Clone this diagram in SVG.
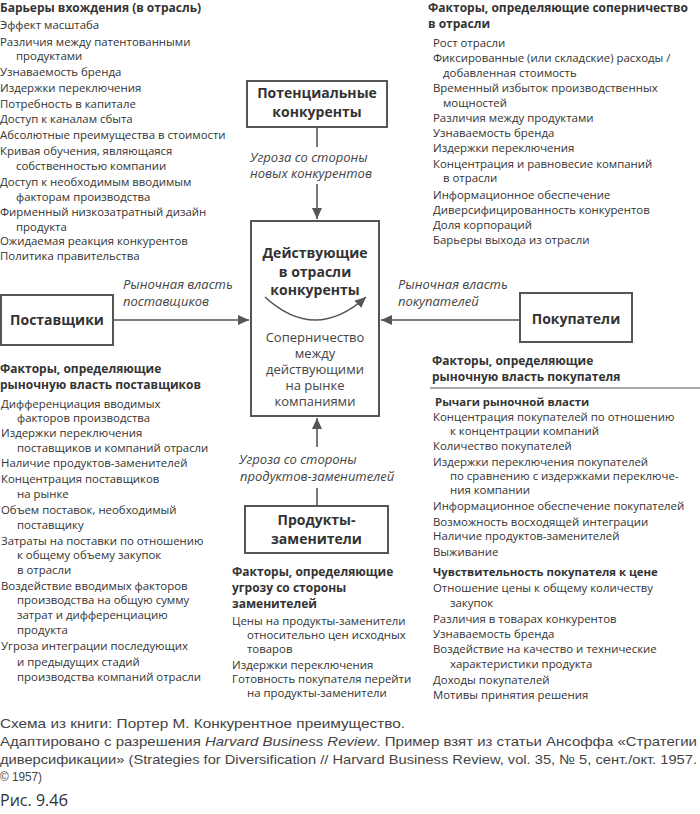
<svg xmlns="http://www.w3.org/2000/svg" width="700" height="814" viewBox="0 0 700 814">
<style>
text{font-family:"Open Sans","Noto Sans",sans-serif;fill:#333}
.b{font-size:11.4px}
.h{font-size:12px;font-weight:bold}
.s{font-size:11.4px;font-weight:bold}
.n{font-size:14px;font-weight:bold;text-anchor:middle}
.c{font-size:13px;text-anchor:middle;fill:#444}
.i{font-size:13px;font-style:italic;fill:#444}
.box{fill:#fff;stroke:#555;stroke-width:2}
.ln{stroke:#555;stroke-width:1.6;fill:none}
.f{font-family:"Liberation Sans Narrow","Liberation Sans",sans-serif;font-size:13.5px;fill:#444}
</style>
<defs>
<marker id="ah" markerUnits="userSpaceOnUse" markerWidth="12" markerHeight="10" refX="11" refY="5" orient="auto">
<path d="M0,0 L11,5 L0,10 z" fill="#555"/>
</marker>
</defs>
<rect width="700" height="814" fill="#fff"/>

<g id="connectors">
<line class="ln" x1="317" y1="127" x2="317" y2="147"/>
<line class="ln" x1="317" y1="184" x2="317" y2="219" marker-end="url(#ah)"/>
<line class="ln" x1="113" y1="320" x2="249" y2="320" marker-end="url(#ah)"/>
<line class="ln" x1="520" y1="320" x2="381" y2="320" marker-end="url(#ah)"/>
<line class="ln" x1="317" y1="506" x2="317" y2="488"/>
<line class="ln" x1="317" y1="447" x2="317" y2="418" marker-end="url(#ah)"/>
<text class="i" x="250" y="162">Угроза со стороны</text>
<text class="i" x="250" y="178">новых конкурентов</text>
<text class="i" x="123" y="289">Рыночная власть</text>
<text class="i" x="123" y="306">поставщиков</text>
<text class="i" x="398" y="289">Рыночная власть</text>
<text class="i" x="398" y="306">покупателей</text>
<text class="i" x="239" y="464">Угроза со стороны</text>
<text class="i" x="240" y="481">продуктов-заменителей</text>
</g>

<g id="potential">
<rect class="box" x="247" y="81" width="140" height="46"/>
<text class="n" x="317" y="98">Потенциальные</text>
<text class="n" x="317" y="117">конкуренты</text>
</g>

<g id="rivals">
<rect class="box" x="251" y="221" width="128" height="195"/>
<text class="n" x="315" y="258">Действующие</text>
<text class="n" x="315" y="277">в отрасли</text>
<text class="n" x="315" y="295">конкуренты</text>
<path class="ln" d="M265,297 Q315,343 366,297" marker-end="url(#ah)"/>
<text class="c" x="315" y="342">Соперничество</text>
<text class="c" x="315" y="358">между</text>
<text class="c" x="315" y="374">действующими</text>
<text class="c" x="315" y="390">на рынке</text>
<text class="c" x="315" y="406">компаниями</text>
</g>

<g id="suppliers">
<rect class="box" x="1" y="295" width="112" height="50"/>
<text class="n" x="57" y="325">Поставщики</text>
</g>

<g id="buyers">
<rect class="box" x="520" y="293" width="112" height="49"/>
<text class="n" x="576" y="324">Покупатели</text>
</g>

<g id="substitutes">
<rect class="box" x="245" y="506" width="143" height="47"/>
<text class="n" x="316.5" y="525">Продукты-</text>
<text class="n" x="316.5" y="544">заменители</text>
</g>

<g id="entry-barriers">
<text class="h" x="0" y="12">Барьеры вхождения (в отрасль)</text>
<text class="b" x="0" y="29">Эффект масштаба</text>
<text class="b" x="0" y="46">Различия между патентованными</text>
<text class="b" x="16" y="60">продуктами</text>
<text class="b" x="0" y="76">Узнаваемость бренда</text>
<text class="b" x="0" y="92">Издержки переключения</text>
<text class="b" x="0" y="108">Потребность в капитале</text>
<text class="b" x="0" y="123">Доступ к каналам сбыта</text>
<text class="b" x="0" y="139">Абсолютные преимущества в стоимости</text>
<text class="b" x="0" y="155">Кривая обучения, являющаяся</text>
<text class="b" x="16" y="170">собственностью компании</text>
<text class="b" x="0" y="186">Доступ к необходимым вводимым</text>
<text class="b" x="16" y="201">факторам производства</text>
<text class="b" x="0" y="216">Фирменный низкозатратный дизайн</text>
<text class="b" x="16" y="231">продукта</text>
<text class="b" x="0" y="245">Ожидаемая реакция конкурентов</text>
<text class="b" x="0" y="260">Политика правительства</text>
</g>

<g id="rivalry-factors">
<text class="h" x="428" y="12">Факторы, определяющие соперничество</text>
<text class="h" x="428" y="28">в отрасли</text>
<text class="b" x="433" y="47">Рост отрасли</text>
<text class="b" x="433" y="62">Фиксированные (или складские) расходы /</text>
<text class="b" x="443" y="77">добавленная стоимость</text>
<text class="b" x="433" y="92">Временный избыток производственных</text>
<text class="b" x="443" y="107">мощностей</text>
<text class="b" x="433" y="122">Различия между продуктами</text>
<text class="b" x="433" y="137">Узнаваемость бренда</text>
<text class="b" x="433" y="152">Издержки переключения</text>
<text class="b" x="433" y="168">Концентрация и равновесие компаний</text>
<text class="b" x="443" y="182">в отрасли</text>
<text class="b" x="433" y="199">Информационное обеспечение</text>
<text class="b" x="433" y="214">Диверсифицированность конкурентов</text>
<text class="b" x="433" y="229">Доля корпораций</text>
<text class="b" x="433" y="244">Барьеры выхода из отрасли</text>
</g>

<g id="supplier-factors">
<text class="h" x="0" y="373">Факторы, определяющие</text>
<text class="h" x="0" y="389">рыночную власть поставщиков</text>
<text class="b" x="1" y="408">Дифференциация вводимых</text>
<text class="b" x="17" y="422">факторов производства</text>
<text class="b" x="1" y="437">Издержки переключения</text>
<text class="b" x="17" y="452">поставщиков и компаний отрасли</text>
<text class="b" x="1" y="467">Наличие продуктов-заменителей</text>
<text class="b" x="1" y="483">Концентрация поставщиков</text>
<text class="b" x="17" y="498">на рынке</text>
<text class="b" x="1" y="514">Объем поставок, необходимый</text>
<text class="b" x="17" y="529">поставщику</text>
<text class="b" x="1" y="545">Затраты на поставки по отношению</text>
<text class="b" x="17" y="559">к общему объему закупок</text>
<text class="b" x="17" y="574">в отрасли</text>
<text class="b" x="1" y="590">Воздействие вводимых факторов</text>
<text class="b" x="17" y="604">производства на общую сумму</text>
<text class="b" x="17" y="619">затрат и дифференциацию</text>
<text class="b" x="17" y="634">продукта</text>
<text class="b" x="1" y="650">Угроза интеграции последующих</text>
<text class="b" x="17" y="666">и предыдущих стадий</text>
<text class="b" x="17" y="681">производства компаний отрасли</text>
</g>

<g id="buyer-factors">
<text class="h" x="432" y="365">Факторы, определяющие</text>
<text class="h" x="432" y="381">рыночную власть покупателя</text>
<line x1="430" y1="388" x2="700" y2="388" stroke="#555" stroke-width="1"/>
<text class="s" x="435" y="406">Рычаги рыночной власти</text>
<text class="b" x="433" y="421">Концентрация покупателей по отношению</text>
<text class="b" x="450" y="435">к концентрации компаний</text>
<text class="b" x="433" y="450">Количество покупателей</text>
<text class="b" x="433" y="466">Издержки переключения покупателей</text>
<text class="b" x="450" y="480">по сравнению с издержками переключе-</text>
<text class="b" x="450" y="494">ния компании</text>
<text class="b" x="433" y="510">Информационное обеспечение покупателей</text>
<text class="b" x="433" y="526">Возможность восходящей интеграции</text>
<text class="b" x="433" y="540">Наличие продуктов-заменителей</text>
<text class="b" x="433" y="556">Выживание</text>
<text class="s" x="433" y="576">Чувствительность покупателя к цене</text>
<text class="b" x="433" y="592">Отношение цены к общему количеству</text>
<text class="b" x="450" y="607">закупок</text>
<text class="b" x="433" y="623">Различия в товарах конкурентов</text>
<text class="b" x="433" y="638">Узнаваемость бренда</text>
<text class="b" x="433" y="653">Воздействие на качество и технические</text>
<text class="b" x="450" y="668">характеристики продукта</text>
<text class="b" x="433" y="684">Доходы покупателей</text>
<text class="b" x="433" y="699">Мотивы принятия решения</text>
</g>

<g id="substitute-factors">
<text class="h" x="232" y="576">Факторы, определяющие</text>
<text class="h" x="232" y="592">угрозу со стороны</text>
<text class="h" x="232" y="608">заменителей</text>
<text class="b" x="232" y="625">Цены на продукты-заменители</text>
<text class="b" x="247" y="639">относительно цен исходных</text>
<text class="b" x="247" y="653">товаров</text>
<text class="b" x="232" y="669">Издержки переключения</text>
<text class="b" x="232" y="683">Готовность покупателя перейти</text>
<text class="b" x="247" y="697">на продукты-заменители</text>
</g>

<g id="footer">
<text class="f" x="0" y="728" textLength="405" lengthAdjust="spacingAndGlyphs">Схема из книги: Портер М. Конкурентное преимущество.</text>
<text class="f" x="0" y="746" textLength="697" lengthAdjust="spacingAndGlyphs">Адаптировано с разрешения <tspan font-style="italic">Harvard Business Review</tspan>. Пример взят из статьи Ансоффа «Стратегии</text>
<text class="f" x="0" y="764" textLength="697" lengthAdjust="spacingAndGlyphs">диверсификации» (Strategies for Diversification // Harvard Business Review, vol. 35, № 5, сент./окт. 1957.</text>
<text class="f" x="0" y="781" textLength="42" lengthAdjust="spacingAndGlyphs">© 1957)</text>
<text x="0" y="806" font-family="Liberation Sans Narrow,Liberation Sans,sans-serif" font-size="17" fill="#555" textLength="68" lengthAdjust="spacingAndGlyphs">Рис. 9.4б</text>
</g>
</svg>
